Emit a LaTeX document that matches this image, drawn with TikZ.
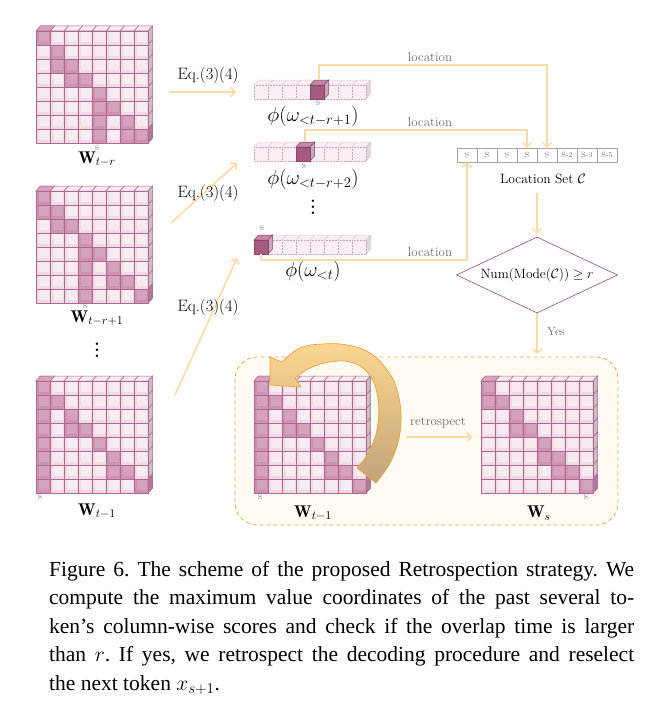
\RequirePackage{fix-cm}
\documentclass[tikz,border=0pt]{standalone}
\usepackage{amsmath,amssymb}
\usepackage{fontspec}
\newfontfamily\capfont{Liberation Serif}
\usetikzlibrary{arrows.meta,shapes.geometric}
\definecolor{lightc}{HTML}{EFDAE5}
\definecolor{innerc}{HTML}{F6EBF1}
\definecolor{darkc}{HTML}{CD92AF}
\definecolor{darkin}{HTML}{D5A2BB}
\definecolor{bordc}{HTML}{B06890}
\definecolor{topc}{HTML}{F5EAF0}
\definecolor{sidec}{HTML}{CBBCC5}
\definecolor{darktop}{HTML}{D6A4BC}
\definecolor{darkside}{HTML}{B5779A}
\definecolor{vdark}{HTML}{A65A80}
\definecolor{vdarktop}{HTML}{C686A6}
\definecolor{vdarkside}{HTML}{CDA7BA}
\definecolor{vlight}{HTML}{F8EEF3}
\definecolor{vbord}{HTML}{D4A1BA}
\definecolor{arrc}{HTML}{FDDAA5}
\definecolor{txtgray}{HTML}{6E6E6E}
\definecolor{slab}{HTML}{7683AC}
\definecolor{panelfill}{HTML}{FFFBF3}
\definecolor{paneldraw}{HTML}{E6AE4E}
\definecolor{diamc}{HTML}{A04A72}
\definecolor{bigtop}{HTML}{FCD690}
\definecolor{bigbot}{HTML}{C2A479}
\definecolor{bigdraw}{HTML}{E9A23A}
\tikzset{
  mborder/.style={draw=bordc, line width=0.5pt},
  vborder/.style={draw=vbord, line width=0.5pt, densely dotted},
  flow/.style={draw=arrc, line width=1.6pt, -{Straight Barb[length=4pt,width=9pt]}},
  wlab/.style={inner sep=0pt, font=\fontsize{17}{19}\selectfont},
  plab/.style={inner sep=0pt, font=\fontsize{20.5}{22}\selectfont},
  eqlab/.style={inner sep=0pt, font=\fontsize{16.5}{18}\selectfont},
  glab/.style={inner sep=0pt, text=txtgray, font=\fontsize{13}{15}\selectfont},
  slabel/.style={inner sep=0pt, text=slab, font=\fontsize{11}{12}\selectfont},
  dotlab/.style={inner sep=0pt, font=\bfseries\fontsize{17}{18}\selectfont},
  lscell/.style={draw=gray!70, fill=white, minimum width=20pt, minimum height=14pt, inner sep=0pt, text=txtgray, font=\fontsize{7.5}{8}\selectfont},
  captext/.style={inner sep=0pt, anchor=base west, font=\capfont\fontsize{21.5}{28}\selectfont},
}
\newcommand\myvdots{\vbox{\baselineskip5.8pt\lineskiplimit0pt\hbox{.}\hbox{.}\hbox{.}}}
\newcommand\mycell[4]{%
  \filldraw[mborder,fill=#3] (#1,#2) rectangle ++(14,14);
  \fill[#4] ({#1+2.6},{#2+0.8}) rectangle ({#1+13.2},{#2+11.4});
}
\newcommand\mymat[3]{%
\begin{scope}[shift={(#1,#2)}]
  \foreach \c in {0,...,7}{\filldraw[mborder,fill=topc] ({\c*14},0) -- ++(4.5,-5) -- ++(14,0) -- ++(-4.5,5) -- cycle;}
  \foreach \r in {0,...,7}{\filldraw[mborder,fill=sidec] (112,{\r*14}) -- ++(4.5,-5) -- ++(0,14) -- ++(-4.5,5) -- cycle;}
  \foreach \r in {0,...,7}{\foreach \c in {0,...,7}{\mycell{\c*14}{\r*14}{lightc}{innerc}}}
  \foreach \r/\c in {#3}{%
    \mycell{\c*14}{\r*14}{darkc}{darkin}
    \ifnum\r=0 \filldraw[mborder,fill=darktop] ({\c*14},0) -- ++(4.5,-5) -- ++(14,0) -- ++(-4.5,5) -- cycle;\fi
    \ifnum\c=7 \filldraw[mborder,fill=darkside] (112,{\r*14}) -- ++(4.5,-5) -- ++(0,14) -- ++(-4.5,5) -- cycle;\fi
  }
\end{scope}}
\newcommand\myvec[3]{%
\begin{scope}[shift={(#1,#2)}]
  \foreach \c in {0,...,7}{\filldraw[vborder,fill=vlight] ({\c*14},0) -- ++(4.5,-5) -- ++(14,0) -- ++(-4.5,5) -- cycle;}
  \filldraw[vborder,fill=vlight!80!gray] (112,0) -- ++(4.5,-5) -- ++(0,14) -- ++(-4.5,5) -- cycle;
  \foreach \c in {0,...,7}{\filldraw[vborder,fill=vlight] ({\c*14},0) rectangle ++(14,14);}
  \filldraw[draw=vdark!80!black, line width=0.5pt, fill=vdarktop] ({#3*14},0) -- ++(4.5,-5) -- ++(14,0) -- ++(-4.5,5) -- cycle;
  \filldraw[draw=vdark!80!black, line width=0.5pt, fill=vdarkside] ({#3*14+14},0) -- ++(4.5,-5) -- ++(0,14) -- ++(-4.5,5) -- cycle;
  \filldraw[draw=vdark!80!black, line width=0.5pt, fill=vdark] ({#3*14},0) rectangle ++(14,14);
\end{scope}}
\begin{document}
\begin{tikzpicture}[x=1pt,y=-1pt]
\useasboundingbox (0,0) rectangle (667,709);
\fill[white] (0,0) rectangle (667,709);

% panel
\draw[paneldraw, fill=panelfill, rounded corners=22pt, line width=0.8pt, dash pattern=on 4pt off 3pt] (235,357) rectangle (618,525);

% matrices
\mymat{36}{31}{0/0,1/1,2/1,2/2,3/2,3/3,4/4,5/4,5/5,6/4,6/6,7/4,7/6,7/7}
\mymat{36}{191}{0/0,1/0,1/1,2/1,2/2,3/3,4/3,4/4,5/3,5/5,6/3,6/5,6/6,7/3,7/7}
\mymat{36}{381}{0/0,1/0,1/1,2/0,2/2,3/0,3/2,3/3,4/0,4/4,5/0,5/5,6/0,6/5,6/6,7/0,7/7}
\mymat{254}{381}{0/0,1/0,1/1,2/0,2/2,3/0,3/2,3/3,4/0,4/4,5/0,5/5,6/0,6/5,6/6,7/0,7/7}
\mymat{481}{381}{0/0,1/0,1/1,2/2,3/2,3/3,4/4,5/4,5/5,6/5,6/6,7/7}

% matrix labels
\node[slabel] (s1) at (97,148) {s};
\node[wlab] (w1) at (97,159) {$\mathbf{W}_{t-r}$};
\node[slabel] (s2) at (85,306) {s};
\node[wlab] (w2) at (97,318) {$\mathbf{W}_{t-r+1}$};
\node[dotlab] (d1) at (97,350) {\myvdots};
\node[slabel] (s3) at (40,497) {s};
\node[wlab] (w3) at (97,511) {$\mathbf{W}_{t-1}$};
\node[slabel] (s4) at (260,497) {s};
\node[wlab] (w4) at (313,513) {$\mathbf{W}_{t-1}$};
\node[slabel] (s5) at (586,497) {s};
\node[wlab] (w5) at (539,513) {$\mathbf{W}_{s}$};

% vectors
\myvec{254}{85}{4}
\myvec{254}{147}{3}
\myvec{254}{240}{0}
\node[slabel] (vs1) at (318,103) {s};
\node[plab] (p1) at (313,116) {$\phi(\omega_{<t-r+1})$};
\node[slabel] (vs2) at (304,166) {s};
\node[plab] (p2) at (313,179) {$\phi(\omega_{<t-r+2})$};
\node[dotlab] (d2) at (313,207) {\myvdots};
\node[slabel] (vs3) at (262,228) {s};
\node[plab] (p3) at (313,271) {$\phi(\omega_{<t})$};

% Eq arrows
\coordinate (e1a) at (169,92); \coordinate (e1b) at (236,92);
\coordinate (e2a) at (171,223); \coordinate (e2b) at (237,163);
\coordinate (e3a) at (175,395); \coordinate (e3b) at (237,258);
\draw[flow] (e1a) -- (e1b);
\draw[flow] (e2a) -- (e2b);
\draw[flow] (e3a) -- (e3b);
\node[eqlab] (q1) at (208,75) {Eq.(3)(4)};
\node[eqlab] (q2) at (208,193) {Eq.(3)(4)};
\node[eqlab] (q3) at (208,307) {Eq.(3)(4)};

% location set
\node[lscell] (ls0) at (467,155) {S};
\node[lscell] (ls1) at (487,155) {S};
\node[lscell] (ls2) at (507,155) {S};
\node[lscell] (ls3) at (527,155) {S};
\node[lscell] (ls4) at (547,155) {S};
\node[lscell] (ls5) at (567,155) {S-2};
\node[lscell] (ls6) at (587,155) {S-3};
\node[lscell] (ls7) at (607,155) {S-5};
\node[inner sep=0pt, font=\fontsize{13.5}{15}\selectfont] (lsl) at (543,179) {Location Set $\mathcal{C}$};

% location lines
\coordinate (v1t) at (319.25,80);
\coordinate (v2t) at (305.25,142);
\coordinate (v3b) at (261,254);
\draw[flow] (v1t) |- (547,65) -- (ls4.north);
\draw[flow] (v2t) |- (527,130) -- (ls3.north);
\draw[flow] (v3b) |- (467,260) -- (ls0.south);
\node[glab] (loc1) at (430,57) {location};
\node[glab] (loc2) at (430,122) {location};
\node[glab] (loc3) at (430,252) {location};

% diamond
\node[diamond, draw=diamc, line width=0.6pt, minimum width=161pt, minimum height=76pt, inner sep=0pt, aspect=2.1] (dia) at (537,275) {\makebox[0pt]{\fontsize{13.5}{15}\selectfont $\mathrm{Num}(\mathrm{Mode}(\mathcal{C}))\geq r$}};
\coordinate (a1) at (537,193);
\draw[flow, shorten >=3pt] (a1) -- (dia.north);
\coordinate (ptop) at (537,354);
\draw[flow] (dia.south) -- (ptop);
\node[glab, font=\fontsize{12}{14}\selectfont] (yes) at (556,331) {Yes};

% retrospect
\coordinate (r1) at (406,437); \coordinate (r2) at (472,437);
\draw[flow] (r1) -- (r2);
\node[glab] (rt) at (438,423) {retrospect};

% big curved arrow
\shadedraw[top color=bigtop, bottom color=bigbot, draw=bigdraw, line width=0.7pt, line join=round]
  plot[smooth, tension=0.7] coordinates {(357,468) (370,450) (378,423) (377,393) (367,372) (350,362) (330,362) (310,368) (295,378)}
  -- (301,387) -- (270,385) -- (270,357) -- (282,362)
  -- plot[smooth, tension=0.7] coordinates {(282,362) (300,348) (323,344) (347,345) (370,353) (387,370) (397,390) (401,423) (393,457) (376,483)}
  -- cycle;

% caption
\node[captext] (c1) at (49,576) {\frenchspacing\hbox to 585pt{Figure 6. The scheme of the proposed Retrospection strategy. We}};
\node[captext] (c2) at (49,604.5) {\frenchspacing\hbox to 585pt{compute the maximum value coordinates of the past several to-}};
\node[captext] (c3) at (49,633) {\frenchspacing\hbox to 585pt{ken’s column-wise scores and check if the overlap time is larger}};
\node[captext] (c4) at (49,661.5) {\frenchspacing\hbox to 585pt{than $r$. If yes, we retrospect the decoding procedure and reselect}};
\node[captext] (c5) at (49,690) {\frenchspacing the next token $x_{s+1}$.};
\end{tikzpicture}
\end{document}
